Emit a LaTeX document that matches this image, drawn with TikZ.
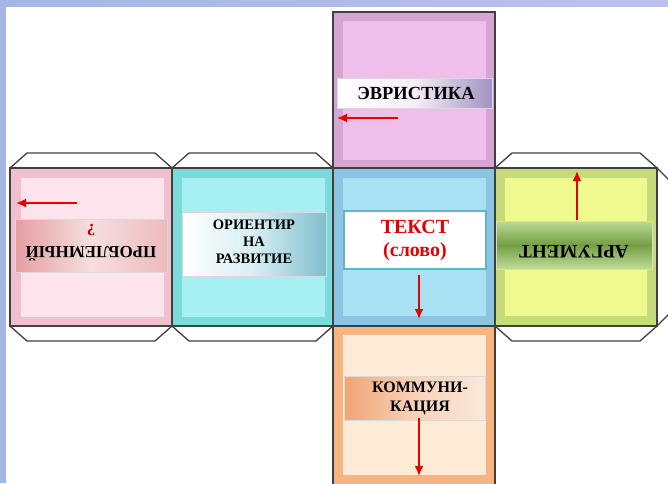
\documentclass[tikz,border=0pt]{standalone}
\usepackage{fontspec}
\setmainfont{Liberation Serif}
\usetikzlibrary{arrows.meta}
\definecolor{bandleft}{RGB}{164,182,232}
\definecolor{bandright}{RGB}{188,192,240}
\definecolor{edgegray}{RGB}{64,64,64}
\definecolor{arrowred}{RGB}{230,0,0}
\definecolor{lilacout}{RGB}{214,166,210}
\definecolor{lilacin}{RGB}{238,191,233}
\definecolor{roseout}{RGB}{240,192,206}
\definecolor{rosein}{RGB}{253,227,236}
\definecolor{cyanout}{RGB}{124,218,218}
\definecolor{cyanin}{RGB}{166,240,242}
\definecolor{blueout}{RGB}{140,196,228}
\definecolor{bluein}{RGB}{168,224,244}
\definecolor{limeout}{RGB}{198,220,124}
\definecolor{limein}{RGB}{238,249,142}
\definecolor{peachout}{RGB}{245,180,130}
\definecolor{peachin}{RGB}{253,235,214}
\begin{document}
\begin{tikzpicture}[x=1pt,y=-1pt,
    face/.style={draw=edgegray,line width=1.3pt},
    tab/.style={draw=edgegray,line width=1.3pt,line join=round},
    banner/.style={inner sep=0pt,draw=black!15,line width=0.4pt},
    label/.style={font=\bfseries,align=center,inner sep=0pt},
    redarrow/.style={draw=arrowred,line width=1.8pt,-{Latex[length=10pt,width=9pt]}}]
    \clip (0,0) rectangle (668,483);
    \fill[white] (0,0) rectangle (668,483);
    \shade[left color=bandleft,right color=bandright] (0,0) rectangle (668,6);
    \fill[bandleft] (0,0) rectangle (6,483);

    \foreach \a/\b in {10/172,172/333,495/657}{
        \draw[tab] (\a,168) -- (\a+17,153) -- (\b-17,153) -- (\b,168);
        \draw[tab] (\a,326) -- (\a+17,341) -- (\b-17,341) -- (\b,326);
    }
    \draw[tab] (657,168) -- (674,185) -- (674,309) -- (657,326);

    \draw[face,fill=lilacout] (333,12) rectangle (495,168);
    \fill[lilacin] (343,21) rectangle (486,160);
    \draw[face,fill=roseout] (10,168) rectangle (172,326);
    \fill[rosein] (21,178) rectangle (164,317);
    \draw[face,fill=cyanout] (172,168) rectangle (333,326);
    \fill[cyanin] (182,178) rectangle (325,317);
    \draw[face,fill=blueout] (333,168) rectangle (495,326);
    \fill[bluein] (343,178) rectangle (486,316);
    \draw[face,fill=limeout] (495,168) rectangle (657,326);
    \fill[limein] (505,178) rectangle (647,316);
    \draw[face,fill=peachout] (333,326) rectangle (495,500);
    \fill[peachin] (343,335) rectangle (486,475);

    \node[banner,left color=white,right color={rgb,255:red,160;green,146;blue,196},middle color=white!80!lilacout,
        minimum width=155pt,minimum height=30pt] (evrbox) at (415,93) {};
    \node[label,font=\bfseries\fontsize{18.5}{20}\selectfont] (evr) at (416,93) {ЭВРИСТИКА};

    \node[banner,left color={rgb,255:red,228;green,158;blue,162},right color={rgb,255:red,236;green,186;blue,190},
        middle color={rgb,255:red,247;green,222;blue,222},minimum width=152pt,minimum height=53pt] (probbox) at (91,246) {};
    \node[label,rotate=180,font=\bfseries\fontsize{17}{22}\selectfont] (prob) at (91,243)
        {ПРОБЛЕМНЫЙ\\\textcolor{arrowred!80!black}{?}};

    \node[banner,left color=white,right color={rgb,255:red,128;green,190;blue,204},middle color={rgb,255:red,214;green,238;blue,243},
        minimum width=144pt,minimum height=64pt] (oribox) at (254,244) {};
    \node[label,font=\bfseries\fontsize{14.5}{17}\selectfont] (ori) at (254,242) {ОРИЕНТИР\\НА\\РАЗВИТИЕ};

    \node[draw={rgb,255:red,90;green,184;blue,200},line width=1.2pt,fill=white,inner sep=0pt,
        minimum width=142pt,minimum height=58pt] (txtbox) at (415,240) {};
    \node[label,text=arrowred,font=\bfseries\fontsize{20}{23}\selectfont] (txt) at (415,240) {ТЕКСТ\\(слово)};

    \node[banner,top color={rgb,255:red,188;green,218;blue,148},bottom color={rgb,255:red,192;green,220;blue,152},
        middle color={rgb,255:red,116;green,158;blue,68},minimum width=156pt,minimum height=48pt] (argbox) at (574,245) {};
    \node[label,rotate=180,font=\bfseries\fontsize{19}{22}\selectfont] (arg) at (574,252) {АРГУМЕНТ};

    \node[banner,left color={rgb,255:red,240;green,166;blue,118},right color={rgb,255:red,251;green,232;blue,218},
        middle color={rgb,255:red,248;green,210;blue,184},minimum width=141pt,minimum height=44pt] (kombox) at (415,398) {};
    \node[label,font=\bfseries\fontsize{16}{19}\selectfont] (kom) at (420,398) {КОММУНИ-\\КАЦИЯ};

    \coordinate (a1) at (398,118);
    \coordinate (b1) at (337,118);
    \coordinate (a2) at (77,203);
    \coordinate (b2) at (16,203);
    \coordinate (a3) at (419,275);
    \coordinate (b3) at (419,319);
    \coordinate (a4) at (577,220);
    \coordinate (b4) at (577,171);
    \coordinate (a5) at (419,418);
    \coordinate (b5) at (419,476);
    \draw[redarrow] (a1) -- (b1);
    \draw[redarrow] (a2) -- (b2);
    \draw[redarrow] (a3) -- (b3);
    \draw[redarrow] (a4) -- (b4);
    \draw[redarrow] (a5) -- (b5);
\end{tikzpicture}
\end{document}
